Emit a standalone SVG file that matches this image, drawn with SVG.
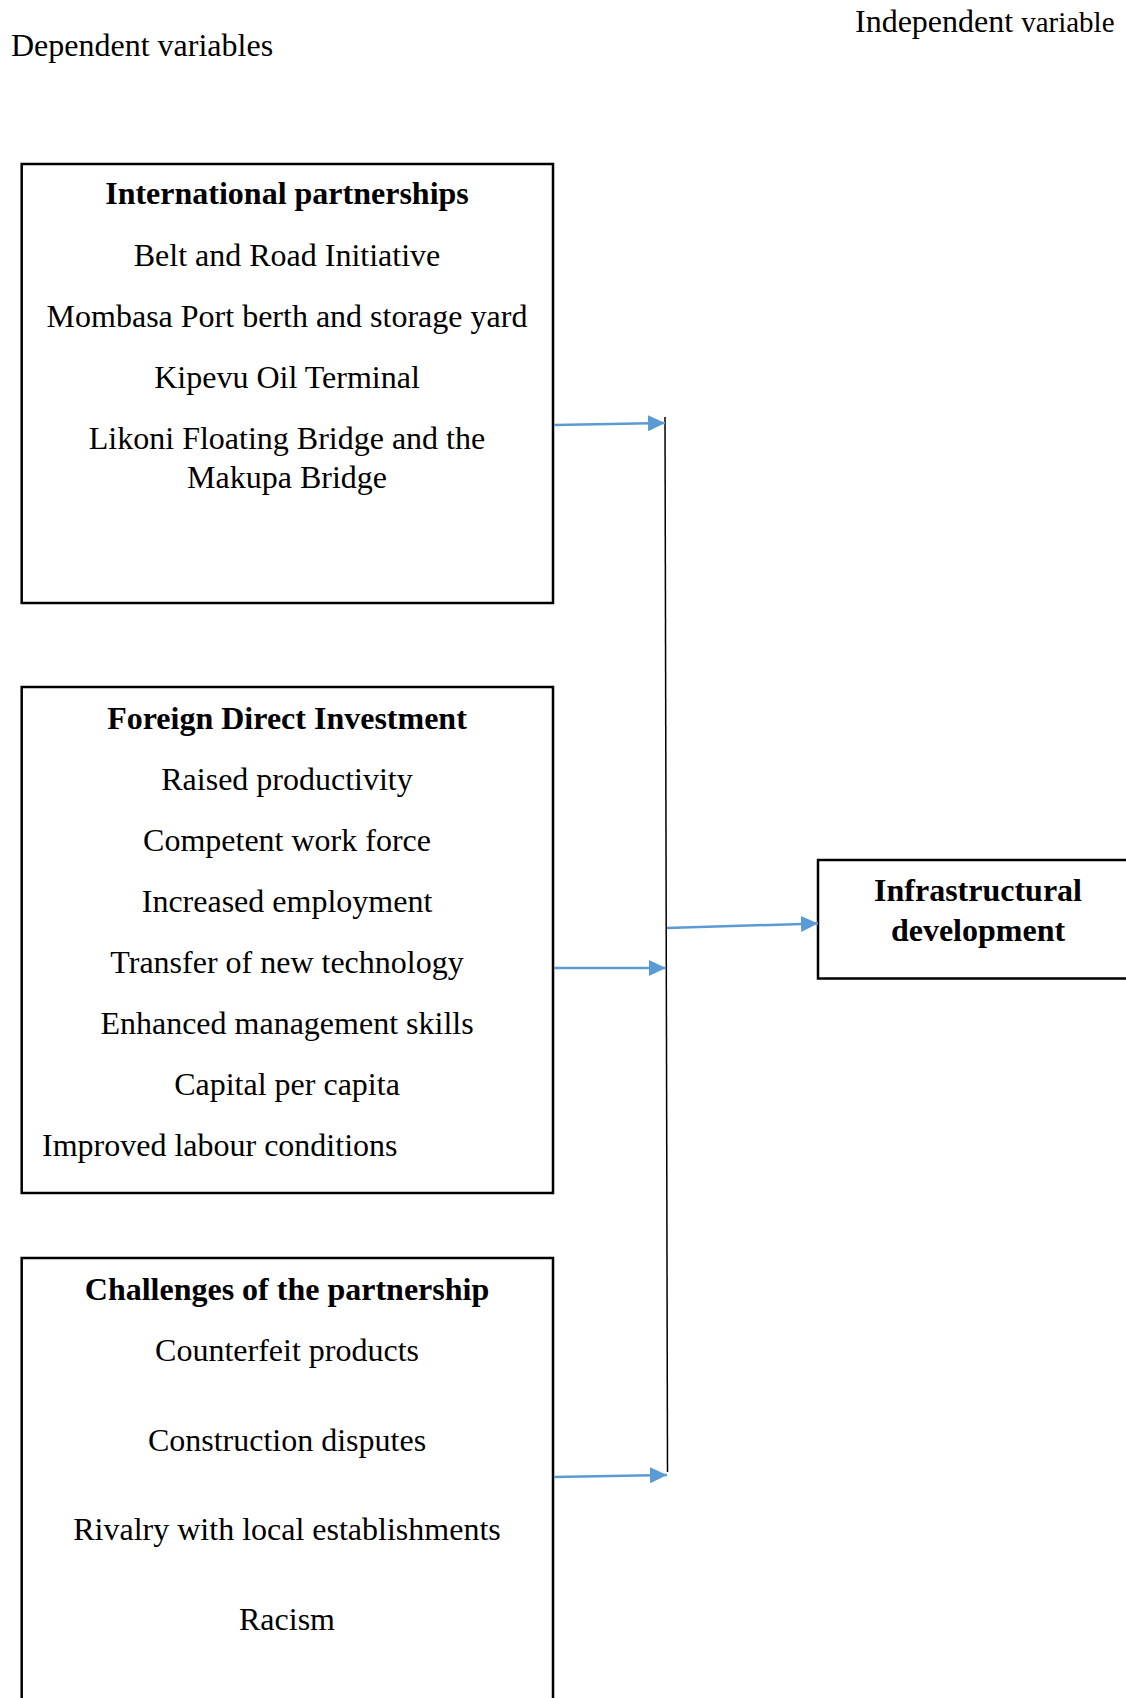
<svg xmlns="http://www.w3.org/2000/svg" width="1126" height="1698" viewBox="0 0 1126 1698">
<defs>
<style>
.t{font-family:"Liberation Serif","Times New Roman",serif;font-size:32px;fill:#000}
.c{text-anchor:middle}
.b{font-weight:bold}
.box{fill:#fff;stroke:#000;stroke-width:2.5}
.arr{stroke:#5B9BD5;stroke-width:2.5;fill:none;marker-end:url(#ah)}
</style>
<marker id="ah" markerUnits="userSpaceOnUse" viewBox="0 0 17 16" markerWidth="17" markerHeight="16" refX="17" refY="8" orient="auto">
<path d="M0,0 L17,8 L0,16 z" fill="#5B9BD5"/>
</marker>
</defs>
<rect width="1126" height="1698" fill="#fff"/>
<g id="headers">
<text class="t" x="855" y="32">Independent <tspan font-size="29">variable</tspan></text>
<text class="t" x="11" y="56">Dependent variables</text>
</g>
<g id="node-international">
<rect class="box" x="21.7" y="164" width="531.3" height="439"/>
<text class="t c b" x="287" y="204">International partnerships</text>
<text class="t c" x="287" y="266">Belt and Road Initiative</text>
<text class="t c" x="287" y="327">Mombasa Port berth and storage yard</text>
<text class="t c" x="287" y="388">Kipevu Oil Terminal</text>
<text class="t c" x="287" y="449">Likoni Floating Bridge and the</text>
<text class="t c" x="287" y="488">Makupa Bridge</text>
</g>
<g id="node-fdi">
<rect class="box" x="21.7" y="687" width="531.3" height="506"/>
<text class="t c b" x="287" y="729">Foreign Direct Investment</text>
<text class="t c" x="287" y="790">Raised productivity</text>
<text class="t c" x="287" y="851">Competent work force</text>
<text class="t c" x="287" y="912">Increased employment</text>
<text class="t c" x="287" y="973">Transfer of new technology</text>
<text class="t c" x="287" y="1034">Enhanced management skills</text>
<text class="t c" x="287" y="1095">Capital per capita</text>
<text class="t" x="42" y="1156">Improved labour conditions</text>
</g>
<g id="node-challenges">
<rect class="box" x="21.7" y="1258" width="531.3" height="460"/>
<text class="t c b" x="287" y="1300">Challenges of the partnership</text>
<text class="t c" x="287" y="1361">Counterfeit products</text>
<text class="t c" x="287" y="1451">Construction disputes</text>
<text class="t c" x="287" y="1540">Rivalry with local establishments</text>
<text class="t c" x="287" y="1630">Racism</text>
</g>
<g id="node-infrastructural">
<rect class="box" x="818" y="860" width="330" height="118.5"/>
<text class="t c b" x="978" y="901">Infrastructural</text>
<text class="t c b" x="978" y="941">development</text>
</g>
<g id="connectors">
<line x1="665" y1="417" x2="667.5" y2="1472" stroke="#000" stroke-width="1.5"/>
<line class="arr" x1="554" y1="425" x2="665" y2="423"/>
<line class="arr" x1="554" y1="968" x2="666" y2="968"/>
<line class="arr" x1="554" y1="1477" x2="667" y2="1475"/>
<line class="arr" x1="667" y1="928" x2="818" y2="923.5"/>
</g>
</svg>
